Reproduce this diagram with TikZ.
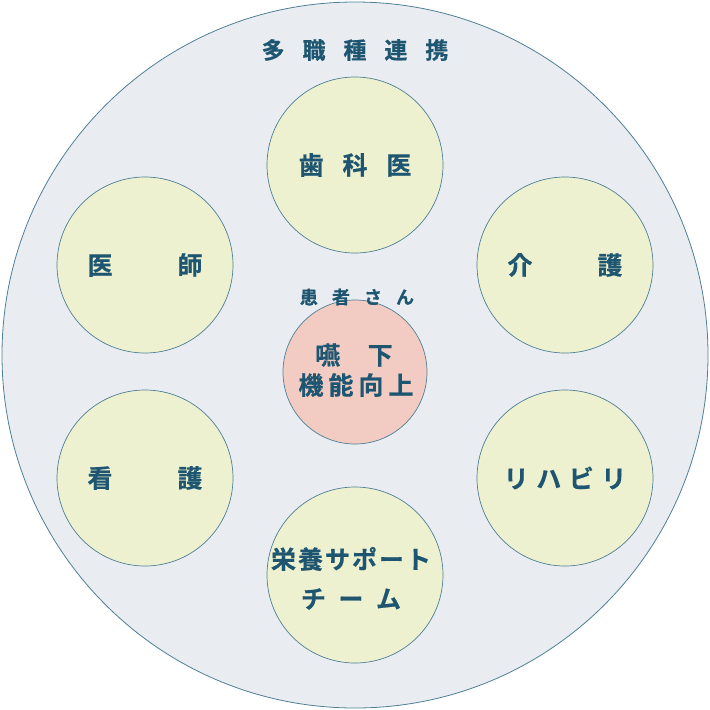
\documentclass[tikz,border=0pt]{standalone}
\usepackage{fontspec}
\setmainfont{Noto Sans CJK JP}[BoldFont={Noto Sans CJK JP Bold},BoldFeatures={FakeBold=0.6}]
\definecolor{bgfill}{HTML}{E9EDF1}
\definecolor{edge}{HTML}{4F7F96}
\definecolor{cfill}{HTML}{EDF1CF}
\definecolor{pfill}{HTML}{F2CCC3}
\definecolor{ink}{HTML}{1E5570}
\begin{document}
\begin{tikzpicture}[x=1pt,y=-1pt,
  circ/.style={circle,draw=edge,line width=0.7pt,fill=cfill,minimum size=176pt,inner sep=0pt},
  lbl/.style={text=ink,font=\bfseries\fontsize{25}{30}\selectfont,align=center,inner sep=0pt},
  ttl/.style={text=ink,font=\bfseries\fontsize{23}{28}\selectfont,inner sep=0pt},
  small/.style={text=ink,font=\bfseries\fontsize{18}{22}\selectfont,inner sep=0pt}]
\useasboundingbox (0,0) rectangle (710,710);
\node[circle,draw=edge,line width=0.8pt,fill=bgfill,minimum size=706pt,inner sep=0pt] (outer) at (355,355) {};
\node[ttl] (title) at (355,50) {多\hspace{0.78em}職\hspace{0.78em}種\hspace{0.78em}連\hspace{0.78em}携};
\node[circ] (dent) at (355,165) {};
\node[lbl] at (dent) {歯\hspace{0.75em}科\hspace{0.75em}医};
\node[circ] (doc) at (145,265) {};
\node[lbl] at (doc) {医\hspace{2.6em}師};
\node[circ] (care) at (565,265) {};
\node[lbl] at (care) {介\hspace{2.6em}護};
\node[circ] (nurse) at (145,478) {};
\node[lbl] at (nurse) {看\hspace{2.6em}護};
\node[circ] (reha) at (565,478) {};
\node[lbl] at (reha) {リ\hspace{0.3em}ハ\hspace{0.3em}ビ\hspace{0.3em}リ};
\node[circ] (nst) at (355,575) {};
\node[lbl] at (351,559) {栄\hspace{0.08em}養\hspace{0.08em}サ\hspace{0.08em}ポ\hspace{0.08em}ー\hspace{0.08em}ト};
\node[lbl] at (351,599) {チ\hspace{0.5em}ー\hspace{0.5em}ム};
\node[circle,draw=edge,line width=0.7pt,fill=pfill,minimum size=144pt,inner sep=0pt] (core) at (355,372) {};
\node[small] (pt) at (357,297) {患\hspace{0.78em}者\hspace{0.78em}さ\hspace{0.78em}ん};
\node[lbl] at (354,355) {嚥\hspace{1.1em}下};
\node[lbl] at (356,385) {機\hspace{0.2em}能\hspace{0.2em}向\hspace{0.2em}上};
\end{tikzpicture}
\end{document}
